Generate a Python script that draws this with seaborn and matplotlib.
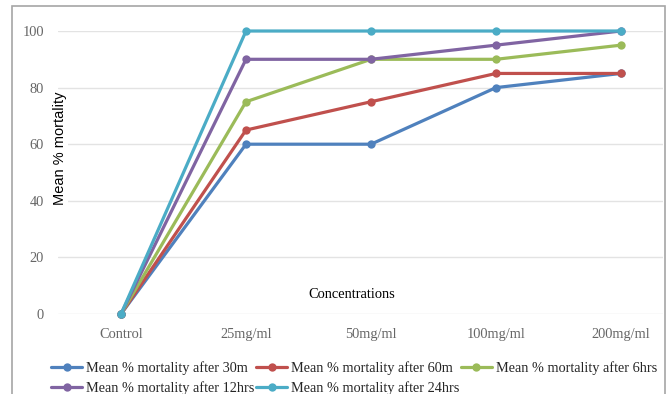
import numpy as np
import pandas as pd
import matplotlib
matplotlib.use("Agg")
import matplotlib.pyplot as plt
from matplotlib.patches import Rectangle
import seaborn as sns

concentrations = ["Control", "25mg/ml", "50mg/ml", "100mg/ml", "200mg/ml"]
after_30m = [0, 60, 60, 80, 85]
after_60m = [0, 65, 75, 85, 85]
after_6hrs = [0, 75, 90, 90, 95]
after_12hrs = [0, 90, 90, 95, 100]
after_24hrs = [0, 100, 100, 100, 100]
series_names = ["Mean % mortality after 30m", "Mean % mortality after 60m",
                "Mean % mortality after 6hrs", "Mean % mortality after 12hrs",
                "Mean % mortality after 24hrs"]
yticks = [0, 20, 40, 60, 80, 100]

colors = ["#4F81BD", "#C0504D", "#9BBB59", "#8064A2", "#4BACC6"]

rows = []
for name, vals in zip(series_names, [after_30m, after_60m, after_6hrs, after_12hrs, after_24hrs]):
    for c, v in zip(concentrations, vals):
        rows.append({"Concentration": c, "Mortality": v, "Series": name})
df = pd.DataFrame(rows)

sns.set_style("white")
serif = ["Liberation Serif", "DejaVu Serif"]
W, H = 670, 394
fig = plt.figure(figsize=(6.7, 3.94), dpi=100)
ax = fig.add_axes([58 / W, 1 - 314 / H, (663 - 58) / W, (314 - 31) / H])

sns.lineplot(data=df, x="Concentration", y="Mortality", hue="Series",
             palette=colors, marker="o", markersize=6, markeredgewidth=0,
             linewidth=2.3, ax=ax, legend=False, clip_on=False, zorder=3)

ax.set_xlim(-0.504, 4.336)
ax.set_ylim(0, 100)
ax.set_yticks(yticks)
ax.set_xticks(range(len(concentrations)))
ax.set_xticklabels(concentrations)
for s in ax.spines.values():
    s.set_visible(False)
ax.grid(axis="y", color="#e3e3e3", linewidth=1)
ax.set_axisbelow(True)
ax.tick_params(length=0, labelsize=10.4, colors="#666666")
ax.tick_params(axis="x", pad=10)
ax.tick_params(axis="y", pad=10)
for lab in ax.get_xticklabels() + ax.get_yticklabels():
    lab.set_family(serif)
ax.set_xlabel("")
ax.set_ylabel("")

fig.text(352 / W, 1 - 295 / H, "Concentrations", ha="center", va="center",
         fontsize=10.4, family=serif, color="black")
fig.text(60 / W, 1 - 148 / H, "Mean % mortality", rotation=90, ha="center",
         va="center", fontsize=10.5, family=["Liberation Sans", "DejaVu Sans"],
         color="black", bbox=dict(facecolor="white", edgecolor="none", pad=1))

# legend is filled column by column, so reorder to read row by row
order = [0, 3, 1, 4, 2]
handles = [plt.Line2D([], [], color=colors[i], marker="o", markersize=6,
                      markeredgewidth=0, linewidth=2.3) for i in order]
labels = [series_names[i] for i in order]
fig.legend(handles, labels, ncol=3, loc="upper left",
           bbox_to_anchor=(51 / W, 1 - 361 / H), frameon=False,
           prop={"family": serif, "size": 10.3}, handlelength=2.2,
           handletextpad=0.25, columnspacing=0.1, labelspacing=0.45,
           borderpad=0, borderaxespad=0)

fig.patches.append(Rectangle((12 / W, -0.1), (665 - 12) / W, 1.1 - 6 / H,
                             transform=fig.transFigure, fill=False,
                             edgecolor="#a6a6a6", linewidth=1.2))

fig.savefig("out.png", dpi=100)
